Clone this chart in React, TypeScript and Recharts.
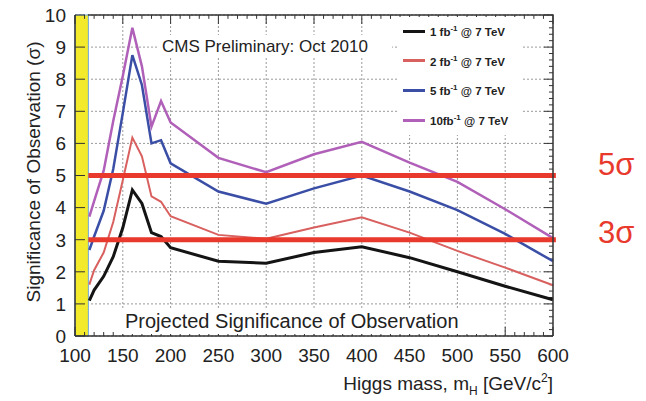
import React from 'react';
import { LineChart, Line, XAxis, YAxis, CartesianGrid, ReferenceLine, ReferenceArea } from 'recharts';

const FONT = '"Liberation Sans", Arial, Helvetica, sans-serif';

// Higgs mass points (GeV/c^2)
const masses = [115, 120, 130, 140, 150, 160, 170, 180, 190, 200, 250, 300, 350, 400, 450, 500, 550, 600];

// expected significance per integrated luminosity
const sig1fb = [1.1, 1.43, 1.86, 2.47, 3.37, 4.55, 4.13, 3.22, 3.1, 2.75, 2.33, 2.27, 2.6, 2.78, 2.44, 2.0, 1.55, 1.13];
const sig2fb = [1.6, 2.05, 2.6, 3.55, 4.85, 6.18, 5.6, 4.35, 4.18, 3.73, 3.15, 3.03, 3.38, 3.7, 3.22, 2.65, 2.13, 1.58];
const sig5fb = [2.68, 3.1, 3.9, 5.2, 6.95, 8.75, 7.82, 6.0, 6.1, 5.38, 4.5, 4.12, 4.6, 5.0, 4.5, 3.92, 3.18, 2.33];
const sig10fb = [3.72, 4.2, 5.15, 6.7, 8.1, 9.6, 8.4, 6.52, 7.32, 6.65, 5.55, 5.1, 5.66, 6.05, 5.4, 4.8, 3.95, 3.05];

const lumiLabels = ['1 fb', '2 fb', '5 fb', '10fb'];
const seriesKeys = ['s1', 's2', 's5', 's10'];
const seriesColors = ['#141414', '#d8605f', '#3a4ea6', '#b060b8'];
const seriesWidths = [3, 2, 2.5, 2.5];

const xMajorTicks = [100, 150, 200, 250, 300, 350, 400, 450, 500, 550, 600];
const xMinorTicks = Array.from({ length: 51 }, (_, i) => 100 + i * 10);
const yMajorTicks = [0, 1, 2, 3, 4, 5, 6, 7, 8, 9, 10];
const yMinorTicks = Array.from({ length: 51 }, (_, i) => Math.round(i * 2) / 10);

const sigmaLevels = [5, 3];
const bandEnd = 114;

const data = masses.map((m, i) => ({
  mass: m,
  s1: sig1fb[i],
  s2: sig2fb[i],
  s5: sig5fb[i],
  s10: sig10fb[i],
}));

const isInt = (v: number) => Math.abs(v - Math.round(v)) < 1e-6;

function BottomTick({ x, y, payload }: any) {
  const major = xMajorTicks.includes(payload.value);
  return (
    <g>
      <line x1={x} x2={x} y1={y} y2={y - (major ? 9 : 4)} stroke="#333" />
      {major && (
        <text x={x} y={y + 26} textAnchor="middle" fontSize={19} fill="#222" fontFamily={FONT}>
          {payload.value}
        </text>
      )}
    </g>
  );
}

function LeftTick({ x, y, payload }: any) {
  return (
    <g>
      <line x1={x} x2={x + 10} y1={y} y2={y} stroke="#333" />
      <text x={x - 9} y={y} dy="0.36em" textAnchor="end" fontSize={19} fill="#222" fontFamily={FONT}>
        {payload.value}
      </text>
    </g>
  );
}

function LegendBox() {
  return (
    <div style={{ position: 'absolute', left: 397, top: 17, width: 126, height: 118, background: '#fff', fontFamily: FONT }}>
      {lumiLabels.map((lab, i) => (
        <div key={lab} style={{ position: 'absolute', left: 6, top: 14 + i * 29.7 - 8, height: 16, display: 'flex', alignItems: 'center' }}>
          <span style={{ display: 'inline-block', width: 22, height: 3, background: seriesColors[i], marginRight: 5 }} />
          <span style={{ fontSize: 11.5, fontWeight: 'bold', color: '#222', whiteSpace: 'nowrap' }}>
            {lab}
            <sup style={{ fontSize: 8 }}>-1</sup> @ 7 TeV
          </span>
        </div>
      ))}
    </div>
  );
}

export default function App() {
  return (
    <div style={{ position: 'absolute', left: 0, top: 0, width: 646, height: 401, background: '#fff' }}>
      <LineChart width={646} height={401} data={data} margin={{ top: 15, right: 93, bottom: 0, left: 0 }}>
        <CartesianGrid vertical={false} stroke="#9a9a9a" strokeDasharray="2 2" />
        {xMajorTicks.slice(1, -1).map((v) => (
          <ReferenceLine key={v} x={v} stroke="#9a9a9a" strokeDasharray="2 2" />
        ))}
        <XAxis
          dataKey="mass"
          type="number"
          domain={[100, 600]}
          ticks={xMinorTicks}
          interval={0}
          height={65}
          tickSize={0}
          tickMargin={0}
          tickLine={false}
          tick={<BottomTick />}
          axisLine={{ stroke: '#333', strokeWidth: 1.5 }}
        />
        <YAxis
          type="number"
          domain={[0, 10]}
          ticks={yMajorTicks}
          interval={0}
          width={75}
          tickSize={0}
          tickMargin={0}
          tickLine={false}
          tick={<LeftTick />}
          axisLine={{ stroke: '#333', strokeWidth: 1.5 }}
        />
        {/* inward ticks along the top and right edges */}
        {xMinorTicks.map((v) => (
          <ReferenceLine
            key={'t' + v}
            ifOverflow="visible"
            segment={[{ x: v, y: 10 }, { x: v, y: xMajorTicks.includes(v) ? 9.72 : 9.88 }]}
            stroke="#333"
          />
        ))}
        {yMinorTicks.map((v) => (
          <ReferenceLine
            key={'r' + v}
            ifOverflow="visible"
            segment={[{ x: 600, y: v }, { x: isInt(v) ? 590.6 : 595.8, y: v }]}
            stroke="#333"
          />
        ))}
        {seriesKeys.map((k, i) => (
          <Line
            key={k}
            dataKey={k}
            name={lumiLabels[i]}
            type="linear"
            stroke={seriesColors[i]}
            strokeWidth={seriesWidths[i]}
            dot={false}
            isAnimationActive={false}
          />
        ))}
        {sigmaLevels.map((s) => (
          <ReferenceLine
            key={s}
            ifOverflow="visible"
            segment={[{ x: bandEnd, y: s }, { x: 603, y: s }]}
            stroke="#e8392c"
            strokeWidth={5}
          />
        ))}
        <ReferenceArea x1={100} x2={bandEnd} y1={0} y2={10} fill="#f2ea2a" fillOpacity={1} stroke="#6fa9dd" strokeWidth={1} />
      </LineChart>
      <LegendBox />
      <svg width={646} height={401} style={{ position: 'absolute', left: 0, top: 0, pointerEvents: 'none' }} fontFamily={FONT}>
        {/* plot frame, top and right edges */}
        <path d="M88,15 H553 V336" fill="none" stroke="#333" strokeWidth={1.5} />
        <rect x={158} y={35} width={234} height={22} fill="#fff" />
        <text x={162} y={52} fontSize={17} fill="#222">CMS Preliminary: Oct 2010</text>
        <rect x={121} y={309} width={383} height={25} fill="#fff" />
        <text x={125} y={328} fontSize={20} fill="#222">Projected Significance of Observation</text>
        <text transform="translate(40,172) rotate(-90)" textAnchor="middle" fontSize={19} fill="#222">
          Significance of Observation (σ)
        </text>
        <text x={553} y={390} textAnchor="end" fontSize={19} fill="#222">
          Higgs mass, m<tspan fontSize={12} dy={5}>H</tspan>
          <tspan dy={-5}> [GeV/c</tspan>
          <tspan fontSize={12} dy={-8}>2</tspan>
          <tspan dy={8}>]</tspan>
        </text>
        <text x={598} y={175} fontSize={31} fill="#e8392c">5σ</text>
        <text x={598} y={243} fontSize={31} fill="#e8392c">3σ</text>
      </svg>
    </div>
  );
}
